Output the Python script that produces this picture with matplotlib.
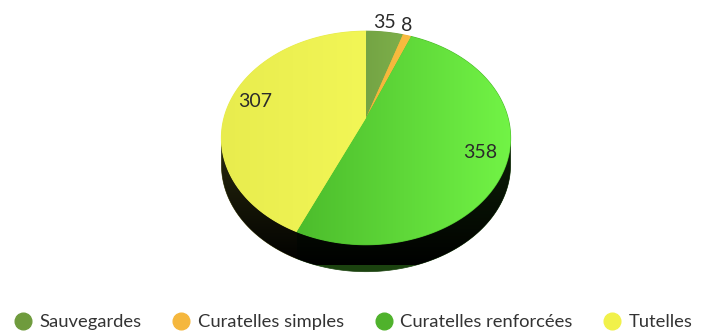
import numpy as np
import matplotlib
matplotlib.use("Agg")
import matplotlib.pyplot as plt
from matplotlib.patches import Polygon
from matplotlib.lines import Line2D
from matplotlib.colors import to_rgb

plt.rcParams['font.family'] = ['Lato', 'DejaVu Sans']

labels = ["Sauvegardes", "Curatelles simples", "Curatelles renforcées", "Tutelles"]
values = [35, 8, 358, 307]
legend_colors = ["#6f9b3d", "#f5b73d", "#4fb22c", "#f1f14a"]
# top face shading, left -> right
face_left = ["#74a444", "#f3b43a", "#4cbc2c", "#e8ec4e"]
face_right = ["#7daf4a", "#f8bd40", "#72f446", "#f2f656"]

# perspective disc in pixel space
cx, cy = 366, 118
R, Q, p = 142, 103, 0.187
depth = 27


def project(t, r=1.0):
    c, s = r * np.cos(t), r * np.sin(t)
    w = 1 + p * s
    return cx + R * c / w, cy - Q * s / w


fig = plt.figure(figsize=(7.15, 3.34), dpi=100)
ax = fig.add_axes([0, 0, 1, 1])
ax.axis("off")

total = sum(values)
cum = np.concatenate([[0], np.cumsum(values)])
t_start = np.pi / 2 - 2 * np.pi * cum[:-1] / total
t_end = np.pi / 2 - 2 * np.pi * cum[1:] / total

# side band (front half of the rim)
a_lo, a_hi = -np.pi + np.arcsin(p), -np.arcsin(p)
tt = np.linspace(a_lo, a_hi, 200)
xs, ys = project(tt)
side_pts = np.column_stack([np.r_[xs, xs[::-1]], np.r_[ys, ys[::-1] + depth]])
side_patch = Polygon(side_pts, closed=True, fc="none", ec="none")
ax.add_patch(side_patch)

for i in range(len(values)):
    for shift in (0, -2 * np.pi):
        lo = max(t_end[i], a_lo + shift)
        hi = min(t_start[i], a_hi + shift)
        if hi <= lo:
            continue
        ts = np.linspace(lo, hi, 80)
        sx, sy = project(ts)
        pts = np.column_stack([np.r_[sx, sx[::-1]], np.r_[sy, sy[::-1] + depth]])
        tint = np.array(to_rgb(face_left[i])) * 0.35
        ax.add_patch(Polygon(pts, closed=True, fc=tint, ec=tint, lw=0.5))

# darken the rim downward
shade = np.zeros((100, 2, 4))
shade[..., 3] = np.linspace(0.45, 1.0, 100)[:, None]
im = ax.imshow(shade, extent=(200, 530, 265, 130), origin="upper",
               interpolation="bilinear", zorder=2)
im.set_clip_path(side_patch)

# top face slices: flat base + horizontal gradient
for i in range(len(values)):
    n = max(int(abs(t_start[i] - t_end[i]) * 80), 6)
    ts = np.linspace(t_start[i], t_end[i], n)
    sx, sy = project(ts)
    pts = np.column_stack([np.r_[cx, sx], np.r_[cy, sy]])
    ax.add_patch(Polygon(pts, closed=True, fc=face_left[i], ec=face_left[i],
                         lw=0.8, zorder=3))
    poly = Polygon(pts, closed=True, fc="none", ec="none", zorder=4)
    ax.add_patch(poly)
    c0, c1 = np.array(to_rgb(face_left[i])), np.array(to_rgb(face_right[i]))
    k = np.linspace(0, 1, 256)[None, :, None]
    grad = c0 * (1 - k) + c1 * k
    gi = ax.imshow(np.repeat(grad, 2, axis=0),
                   extent=(min(sx.min(), cx) - 1, max(sx.max(), cx) + 1, 250, 20),
                   interpolation="bilinear", zorder=4)
    gi.set_clip_path(poly)

# value labels
for i, v in enumerate(values):
    mid = (t_start[i] + t_end[i]) / 2
    if v / total < 0.08:
        x, y = project(mid, 1.0)
        y -= 10
    else:
        x, y = project(mid, 0.82)
    ax.text(x, y, str(v), ha="center", va="center", fontsize=14, color="#2b2b2b", zorder=6)

ax.set_xlim(0, 715)
ax.set_ylim(334, 0)
ax.set_aspect("auto")

handles = [Line2D([], [], ls="none", marker="o", markersize=12, mfc=c, mec=c)
           for c in legend_colors]
fig.legend(handles, labels, loc="center", bbox_to_anchor=(0.494, 12 / 334), ncol=4,
           frameon=False, fontsize=13.2, handletextpad=0.4, columnspacing=1.65,
           labelcolor="#333333", handlelength=1.0)

fig.savefig("out.png", dpi=100)
